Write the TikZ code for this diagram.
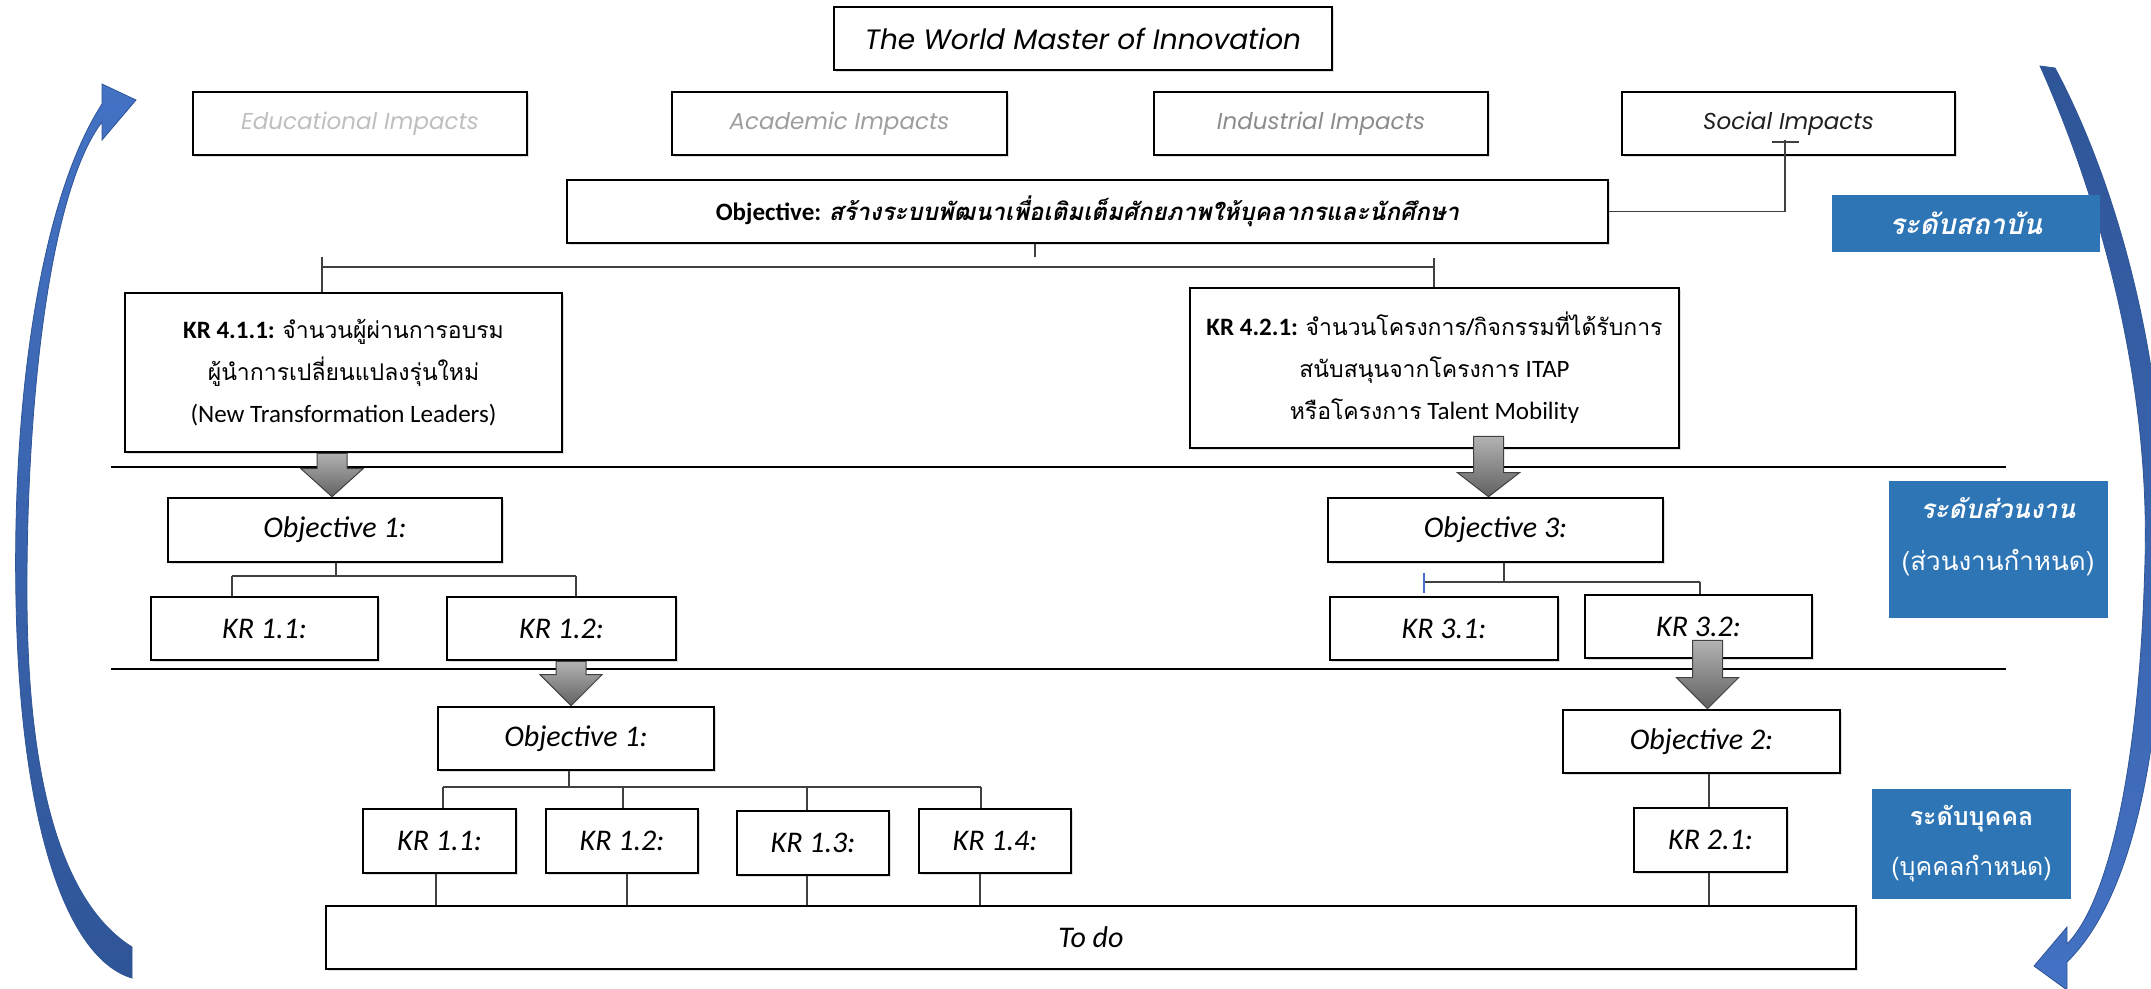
\documentclass[tikz,border=0pt]{standalone}
\usepackage{fontspec}
\setmainfont{Carlito}
\newfontfamily\thai[Script=Thai]{Loma}
\newfontfamily\titlef{Poppins}
\usetikzlibrary{calc,shadows}
\definecolor{lblue}{HTML}{2E75B6}
\definecolor{arrblue}{HTML}{4472C4}
\definecolor{arrdark}{HTML}{2F5597}
\definecolor{conncol}{HTML}{404040}
\tikzset{
  box/.style={draw=black, line width=2.6pt, fill=white, inner sep=0pt, align=center,
    drop shadow={opacity=0.25, shadow xshift=1.5pt, shadow yshift=-1.5pt}},
  conn/.style={draw=conncol, line width=1.3pt},
  sepline/.style={draw=black, line width=2.6pt},
  lbl/.style={fill=lblue, text=white, inner sep=0pt, align=center},
  lbltext/.style={text=white, inner sep=0pt, align=center},
  garrow/.style={draw=black!75, line width=1pt, top color=black!30, bottom color=black!62},
  blarrow/.style={draw=arrdark, line width=0.8pt},
  ttl/.style={font=\titlef\itshape\fontsize{28}{34}\selectfont},
  imp/.style={font=\titlef\itshape\fontsize{23}{28}\selectfont},
  lab/.style={font=\itshape\fontsize{30}{36}\selectfont},
  krf/.style={font=\fontsize{25}{42}\selectfont},
}
\newcommand\thk{\thai\fontsize{23}{42}\selectfont}
\newcommand\mybox[7]{\node[#6, minimum width={(#4-#2)*1pt}, minimum height={(#5-#3)*1pt}] (#1) at ({(#2+#4)/2},{(#3+#5)/2}) {#7};}
\newcommand\garr[3]{\path[garrow] let \p1=#1, \p2=#2 in
  (\x2-15pt,\y1) -- (\x2+15pt,\y1) -- (\x2+15pt,\y2+#3) -- (\x2+31pt,\y2+#3) -- (\x2,\y2)
  -- (\x2-31pt,\y2+#3) -- (\x2-15pt,\y2+#3) -- cycle;}
\begin{document}
\begin{tikzpicture}[x=1pt,y=-1pt]
\useasboundingbox (0,0) rectangle (2151,988);
\fill[white] (0,0) rectangle (2151,988);

% blue curved arrows
\begin{scope}
\clip (0,0) rectangle (2151,988);
\path[blarrow, top color=arrblue, bottom color=arrdark]
  (132,978) .. controls (65,958) and (20,820) .. (16,600)
  .. controls (12,400) and (40,200) .. (102,104)
  -- (102,84) -- (136,100) -- (102,140) -- (102,122)
  .. controls (50,190) and (26,400) .. (27,600)
  .. controls (28,790) and (65,905) .. (132,947) -- cycle;
\path[blarrow, top color=arrdark, bottom color=arrblue]
  (2040,66) .. controls (2100,200) and (2150,380) .. (2145,560)
  .. controls (2140,760) and (2110,900) .. (2067,944)
  -- (2067,927) -- (2034,966) -- (2067,990) -- (2067,962)
  .. controls (2130,900) and (2162,760) .. (2165,560)
  .. controls (2168,360) and (2115,180) .. (2055,68) -- cycle;
\end{scope}

% separators
\coordinate (s1l) at (111,467); \coordinate (s1r) at (2006,467);
\coordinate (s2l) at (111,669); \coordinate (s2r) at (2006,669);
\draw[sepline] (s1l) -- (s1r);
\draw[sepline] (s2l) -- (s2r);

% top level
\mybox{title}{834}{7}{1332}{70}{box,ttl}{The World Master of Innovation}
\mybox{edu}{193}{92}{527}{155}{box,imp,text=black!25}{Educational Impacts}
\mybox{aca}{672}{92}{1007}{155}{box,imp,text=black!38}{Academic Impacts}
\mybox{ind}{1154}{92}{1488}{155}{box,imp,text=black!45}{Industrial Impacts}
\mybox{soc}{1622}{92}{1955}{155}{box,imp,text=black!88}{Social Impacts}
\mybox{obj}{567}{180}{1608}{243}{box,font=\fontsize{25}{30}\selectfont}{\textbf{Objective:} {\thai\fontsize{24}{30}\selectfont\bfseries\itshape สร้างระบบพัฒนาเพื่อเติมเต็มศักยภาพให้บุคลากรและนักศึกษา}}

\mybox{kra}{125}{293}{562}{452}{box,krf}{\textbf{KR 4.1.1:} {\thk จำนวนผู้ผ่านการอบรม}\\{\thk ผู้นำการเปลี่ยนแปลงรุ่นใหม่}\\(New Transformation Leaders)}
\mybox{krb}{1190}{288}{1679}{448}{box,krf}{\textbf{KR 4.2.1:} {\thk จำนวนโครงการ/กิจกรรมที่ได้รับการ}\\{\thk สนับสนุนจากโครงการ} ITAP\\{\thk หรือโครงการ} Talent Mobility}

% middle level
\mybox{oa}{168}{498}{502}{562}{box,lab}{Objective 1:}
\mybox{ka1}{151}{597}{378}{660}{box,lab}{KR 1.1:}
\mybox{ka2}{447}{597}{676}{660}{box,lab}{KR 1.2:}
\mybox{oc}{1328}{498}{1663}{562}{box,lab}{Objective 3:}
\mybox{kc1}{1330}{597}{1558}{660}{box,lab}{KR 3.1:}
\mybox{kc2}{1585}{595}{1812}{658}{box,lab}{KR 3.2:}

% bottom level
\mybox{ob}{438}{707}{714}{770}{box,lab}{Objective 1:}
\mybox{kb1}{363}{809}{516}{873}{box,lab}{KR 1.1:}
\mybox{kb2}{546}{809}{698}{873}{box,lab}{KR 1.2:}
\mybox{kb3}{737}{811}{889}{875}{box,lab}{KR 1.3:}
\mybox{kb4}{919}{809}{1071}{873}{box,lab}{KR 1.4:}
\mybox{od}{1563}{710}{1840}{773}{box,lab}{Objective 2:}
\mybox{kd1}{1634}{808}{1787}{872}{box,lab}{KR 2.1:}
\mybox{todo}{326}{906}{1856}{969}{box,lab}{To do}

% level labels
\mybox{l1}{1832}{195}{2100}{252}{lbl,font=\thai\bfseries\itshape\fontsize{28}{34}\selectfont}{ระดับสถาบัน}
\fill[lblue] (1889,481) rectangle (2108,618);
\node[lbltext, font=\thai\fontsize{26}{52}\selectfont] (l2) at (1998,537) {{\bfseries\itshape ระดับส่วนงาน}\\(ส่วนงานกำหนด)};
\mybox{l3}{1872}{789}{2071}{899}{lbl,font=\thai\fontsize{25}{50}\selectfont}{{\bfseries ระดับบุคคล}\\(บุคคลกำหนด)}

% connectors: objective tree
\coordinate (t0) at (1035,257);
\coordinate (tl) at (322,257);
\coordinate (tr) at (1434,258);
\coordinate (hl) at (322,267);
\coordinate (hr) at (1434,267);
\draw[conn] (t0 |- obj.south) -- (t0);
\draw[conn] (hl) -- (hr);
\draw[conn] (tl) -- (tl |- kra.north);
\draw[conn] (tr) -- (tr |- krb.north);
% social connector
\coordinate (sc) at (1785,140);
\draw[conn] (obj.east) -| (sc);
\draw[conn] ($(sc)+(-13,2)$) -- ($(sc)+(14,2)$);

% objective 1 tree (middle)
\coordinate (a0) at (336,576);
\coordinate (a1) at (232,576);
\coordinate (a2) at (576,576);
\draw[conn] (a0 |- oa.south) -- (a0);
\draw[conn] (a1) -- (a2);
\draw[conn] (a1) -- (a1 |- ka1.north);
\draw[conn] (a2) -- (a2 |- ka2.north);

% objective 3 tree
\coordinate (c0) at (1504,582);
\coordinate (c1) at (1424,582);
\coordinate (c2) at (1700,582);
\coordinate (c1t) at (1424,573);
\coordinate (c1b) at (1424,593);
\draw[conn] (c0 |- oc.south) -- (c0);
\draw[conn] (c1) -- (c2);
\draw[arrblue, line width=1.3pt] (c1t) -- (c1b);
\draw[conn] (c2) -- (c2 |- kc2.north);

% objective 1 tree (bottom)
\coordinate (b0) at (569,787);
\coordinate (bh1) at (443,787);
\coordinate (bh2) at (623,787);
\coordinate (bh3) at (807,787);
\coordinate (bh4) at (981,787);
\draw[conn] (b0 |- ob.south) -- (b0);
\draw[conn] (bh1) -- (bh4);
\draw[conn] (bh1) -- (bh1 |- kb1.north);
\draw[conn] (bh2) -- (bh2 |- kb2.north);
\draw[conn] (bh3) -- (bh3 |- kb3.north);
\draw[conn] (bh4) -- (bh4 |- kb4.north);
\coordinate (d1) at (436,906);
\coordinate (d2) at (627,906);
\coordinate (d3) at (807,906);
\coordinate (d4) at (980,906);
\draw[conn] (d1 |- kb1.south) -- (d1 |- todo.north);
\draw[conn] (d2 |- kb2.south) -- (d2 |- todo.north);
\draw[conn] (d3 |- kb3.south) -- (d3 |- todo.north);
\draw[conn] (d4 |- kb4.south) -- (d4 |- todo.north);

% objective 2 tree
\coordinate (e0) at (1709,800);
\draw[conn] (e0 |- od.south) -- (e0 |- kd1.north);
\draw[conn] (e0 |- kd1.south) -- (e0 |- todo.north);

% grey block arrows
\garr{(kra.south)}{($(oa.north)+(-3,0)$)}{28pt}
\garr{($(krb.south)+(0,-13)$)}{($(oc.north)+(-7,0)$)}{24pt}
\garr{(ka2.south)}{($(ob.north)+(-5,0)$)}{31pt}
\garr{($(kc2.south)+(0,-19)$)}{($(od.north)+(6,0)$)}{31pt}
\end{tikzpicture}
\end{document}
